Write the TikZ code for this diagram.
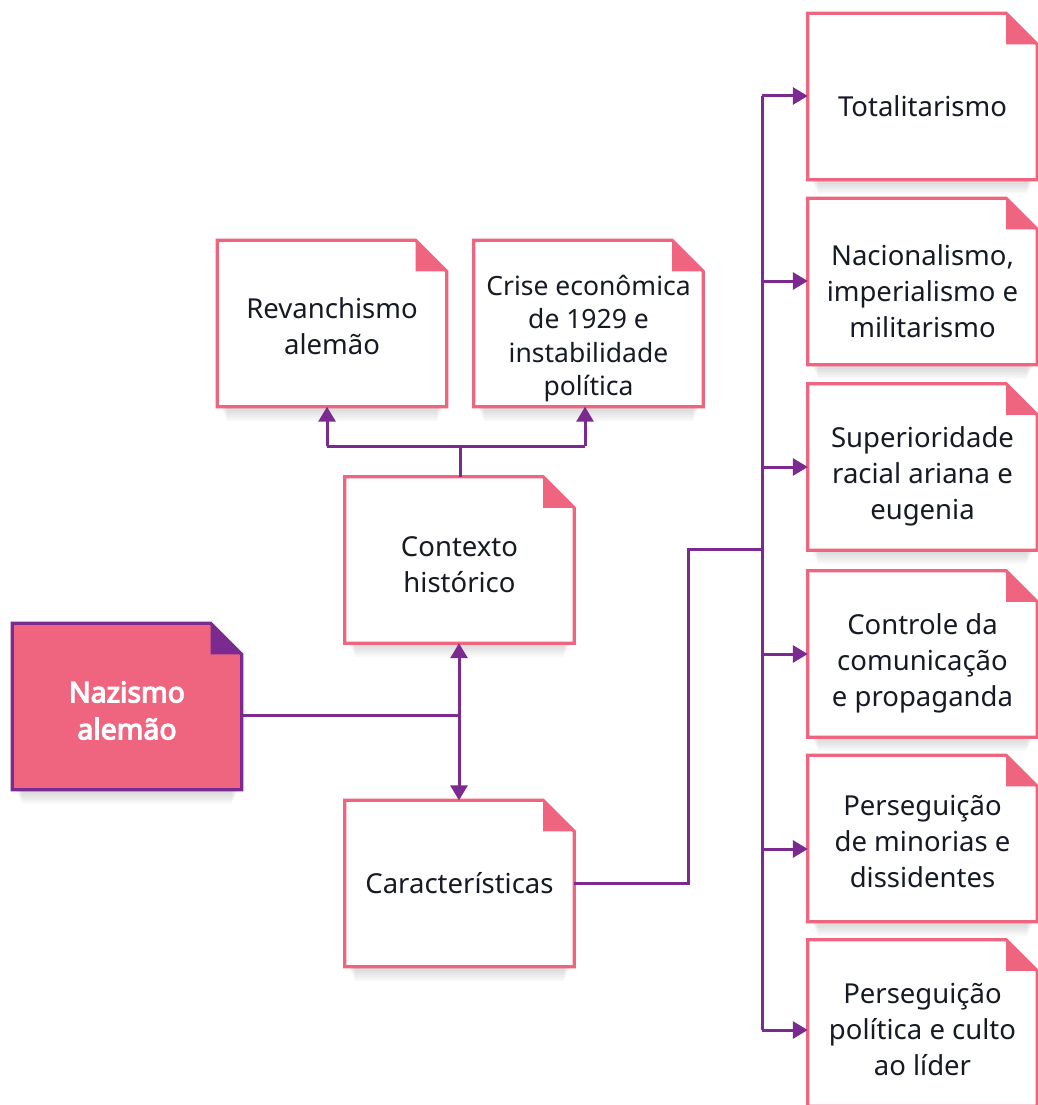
\documentclass[tikz,border=0pt]{standalone}
\usepackage{fontspec}
\setmainfont{Noto Sans}
\newfontfamily\nzbold[FakeBold=4]{Noto Sans}
\usetikzlibrary{arrows.meta,calc,backgrounds}
\definecolor{pk}{HTML}{EF6580}
\definecolor{pu}{HTML}{7B2A90}
\definecolor{tx}{HTML}{161A24}
\tikzset{
  box/.style={minimum width=229pt, minimum height=166pt, inner sep=0pt},
  txt/.style={inner sep=0pt, align=center, font=\fontsize{27.5}{36}\selectfont, text=tx},
  maintxt/.style={txt, text=white, font=\fontsize{28.5}{37}\selectfont\nzbold},
  conn/.style={draw=pu, line width=3pt},
  arr/.style={conn, -{Triangle[length=15pt,width=17pt]}},
}
\newcommand\drawcard[4]{%
  \foreach \k in {1,...,7}
    \fill[black, opacity=0.022] ($(#1.south west)+(3+\k,-20)$) rectangle ($(#1.south east)+(-3-\k,2*\k)$);
  \filldraw[fill=#2, draw=#3, line width=3.2pt, line join=miter]
    (#1.north west) -- ($(#1.north east)+(-31,0)$) -- ($(#1.north east)+(0,31)$)
    -- (#1.south east) -- (#1.south west) -- cycle;
  \fill[#4] ($(#1.north east)+(-31,0)$) -- ($(#1.north east)+(-31,31)$) -- ($(#1.north east)+(0,31)$) -- cycle;
}
\begin{document}
\begin{tikzpicture}[x=1pt, y=-1pt]
\useasboundingbox (0,0) rectangle (1038,1105);

% boxes
\node[box] (naz) at (127,706.5) {};
\node[box] (ctx) at (459.5,560) {};
\node[box] (car) at (459.5,883.5) {};
\node[box] (rev) at (332,323.5) {};
\node[box] (cri) at (588.5,323.5) {};
\node[box] (t1) at (922.5,96.5) {};
\node[box] (t2) at (922.5,281.5) {};
\node[box] (t3) at (922.5,467) {};
\node[box] (t4) at (922.5,654) {};
\node[box] (t5) at (922.5,838.5) {};
\node[box] (t6) at (922.5,1023) {};

\drawcard{naz}{pk}{pu}{pu}
\foreach \n in {ctx,car,rev,cri,t1,t2,t3,t4,t5,t6} {\drawcard{\n}{white}{pk}{pk}}

% texts
\node[maintxt] (nazT) at ($(naz)+(0,4)$) {Nazismo\\alemão};
\node[txt] (ctxT) at ($(ctx)+(0,5)$) {Contexto\\histórico};
\node[txt] (carT) at ($(car)+(0,0)$) {Características};
\node[txt] (revT) at ($(rev)+(0,3)$) {Revanchismo\\alemão};
\node[txt, font=\fontsize{26.5}{33.5}\selectfont] (criT) at ($(cri)+(0,15)$) {Crise econômica\\de 1929 e\\instabilidade\\política};
\node[txt] (t1T) at ($(t1)+(0,9.5)$) {Totalitarismo};
\node[txt] (t2T) at ($(t2)+(0,9.5)$) {Nacionalismo,\\imperialismo e\\militarismo};
\node[txt] (t3T) at ($(t3)+(0,9)$) {Superioridade\\racial ariana e\\eugenia};
\node[txt] (t4T) at ($(t4)+(0,9)$) {Controle da\\comunicação\\e propaganda};
\node[txt] (t5T) at ($(t5)+(0,2.5)$) {Perseguição\\de minorias e\\dissidentes};
\node[txt] (t6T) at ($(t6)+(0,6)$) {Perseguição\\política e culto\\ao líder};

% Nazismo -> Contexto / Caracteristicas
\coordinate (j1) at (459,715);
\draw[conn] (naz.east |- j1) -- (j1);
\draw[arr] (j1) -- (ctx.south -| j1);
\draw[arr] (j1) -- (car.north -| j1);

% Contexto -> Revanchismo / Crise
\coordinate (j2) at (460,446);
\coordinate (bl) at (327,446);
\coordinate (br) at (585,446);
\draw[conn] (ctx.north -| j2) -- (j2);
\draw[conn] (bl) -- (br);
\draw[arr] (bl) -- (rev.south -| bl);
\draw[arr] (br) -- (cri.south -| br);

% Caracteristicas -> list
\coordinate (c1) at (688,883);
\coordinate (c2) at (688,549);
\coordinate (tr) at (762,549);
\coordinate (top) at (762,96);
\coordinate (bot) at (762,1030);
\draw[conn] (car.east |- c1) -- (c1) -- (c2) -- (tr);
\draw[conn] (top) -- (bot);
\draw[arr] (top) -- (t1.west |- top);
\draw[arr] (762,281) -- (t2.west |- 0,281);
\draw[arr] (762,467) -- (t3.west |- 0,467);
\draw[arr] (762,654) -- (t4.west |- 0,654);
\draw[arr] (762,849) -- (t5.west |- 0,849);
\draw[arr] (bot) -- (t6.west |- bot);
\end{tikzpicture}
\end{document}
